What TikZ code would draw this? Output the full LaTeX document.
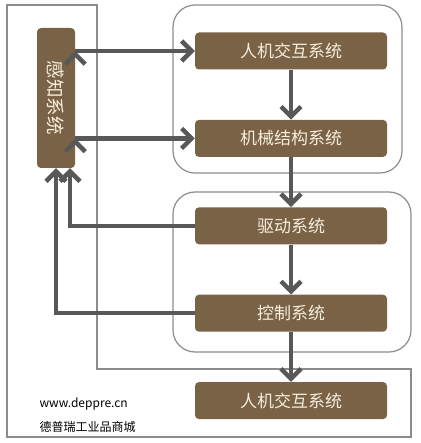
\documentclass[tikz,border=0pt]{standalone}
\usepackage{fontspec}
\setmainfont{Noto Sans CJK SC}
\usetikzlibrary{arrows.meta,positioning}

\definecolor{boxbrown}{HTML}{7A6246}
\definecolor{arrowgray}{HTML}{585858}
\definecolor{framegray}{HTML}{8C8C8C}
\definecolor{textcream}{HTML}{F6EEDD}

\begin{document}
\begin{tikzpicture}[x=1pt,y=-1pt,>={Straight Barb[length=10pt,width=20pt]},node distance=50pt,
    sys/.style={fill=boxbrown,rounded corners=4pt,minimum width=192pt,minimum height=37pt,
                text=textcream,font=\fontsize{17}{17}\selectfont},
    flow/.style={->,draw=arrowgray,line width=4.5pt},
    group/.style={draw=framegray,line width=1.2pt,rounded corners=22pt}]

                \useasboundingbox (0,0) rectangle (420,443);

                % frames
                \draw[framegray,line width=1.2pt] (7,5) -- (97,5) -- (97,369) -- (411,369) -- (411,437) -- (7,437) -- cycle;
                \draw[group] (173,5) rectangle (402,173);
                \draw[group] (173,192) rectangle (411,352);

                \node[sys] (hmi) at (291,51) {人机交互系统};
                \node[sys] (mech) [below=of hmi] {机械结构系统};
                \node[sys] (drive) [below=of mech] {驱动系统};
                \node[sys] (ctrl) [below=of drive] {控制系统};
                \node[sys] (hmi2) [below=of ctrl] {人机交互系统};

                \node[sys,rotate=-90,minimum width=140pt,minimum height=38pt,
                      font=\fontsize{18.5}{18.5}\selectfont] (sense) at (56,98) {感知系统};

                \coordinate (fb1) at (70,0);
                \coordinate (fb2) at (56,0);

                \path[flow] (sense.north |- hmi) edge (hmi);
                \path[flow] (sense.north |- mech) edge (mech);

                \path[flow] (hmi) edge (mech);
                \path[flow] (mech) edge (drive);
                \path[flow] (drive) edge (ctrl);
                \path[flow] (ctrl) edge (hmi2);

                \draw[flow] (drive) -| (fb1 |- sense.east);
                \draw[flow] (ctrl) -| (fb2 |- sense.east);

                \node[anchor=west,font=\fontsize{12}{12}\selectfont] (url) at (36,404) {www.deppre.cn};
                \node[anchor=west,font=\fontsize{12}{12}\selectfont] (shop) at (36,427) {德普瑞工业品商城};

            \end{tikzpicture}
\end{document}
